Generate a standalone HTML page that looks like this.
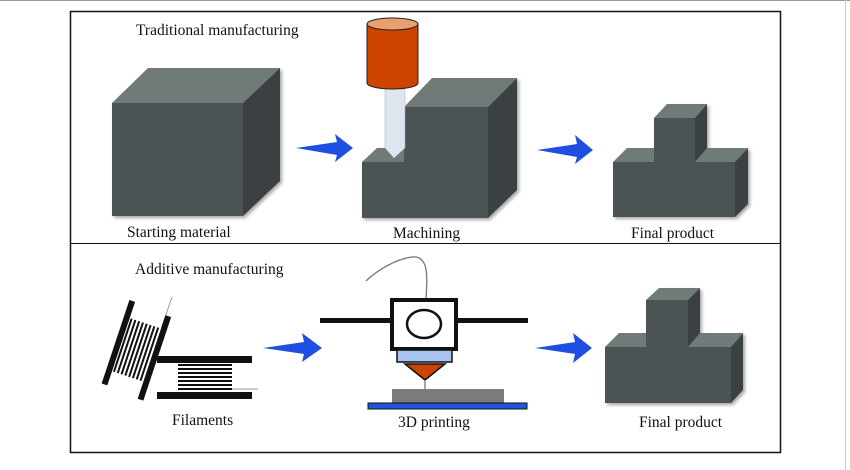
<!DOCTYPE html>
<html><head><meta charset="utf-8"><style>
html,body{margin:0;padding:0;background:#fff;}
svg{display:block;}
text{font-family:"Liberation Serif",serif;fill:#111;}
</style></head><body>
<svg width="850" height="470" viewBox="0 0 850 470" xmlns="http://www.w3.org/2000/svg">
<defs>
<filter id="sh" x="-10%" y="-10%" width="130%" height="130%"><feDropShadow dx="2" dy="2" stdDeviation="1.5" flood-color="#000" flood-opacity="0.35"/></filter>
</defs>
<rect width="850" height="470" fill="#fff"/>
<line x1="0" y1="0.5" x2="850" y2="0.5" stroke="#999" stroke-width="1"/>
<line x1="845.5" y1="0" x2="845.5" y2="470" stroke="#ccc" stroke-width="1"/>
<rect x="70.5" y="11.5" width="710" height="441" fill="none" stroke="#111" stroke-width="1.5"/>
<line x1="70" y1="243.5" x2="781" y2="243.5" stroke="#111" stroke-width="1"/>

<g filter="url(#sh)">
<polygon points="112,103 148,68 280,68 243,103" fill="#707a78"/>
<polygon points="243,103 280,68 280,181 243,216" fill="#3b4142"/>
<rect x="112" y="103" width="131" height="113" fill="#4b5354"/>
</g>

<g fill="#1f4fe0">
<polygon points="296,148 337,142 335,134 353,148 335,162 337,155"/>
<polygon points="537,150 577,144 575,135 593,150 575,164 577,157"/>
<polygon points="263,348 304,342 302,333 322,348 302,362 304,354"/>
<polygon points="535,348 575,342 573,333 592,348 573,363 575,354"/>
</g>

<g filter="url(#sh)">
<polygon points="362,162 377,148 404,148 404,162" fill="#707a78"/>
<polygon points="404,107 432,78 517,78 488,107" fill="#707a78"/>
<polygon points="488,107 517,78 517,190 488,218" fill="#3b4142"/>
<polygon points="362,162 404,162 404,107 488,107 488,218 362,218" fill="#4b5354"/>
</g>
<polygon points="385,83 405,83 405,148 394,158 385,148" fill="#dde6ee" stroke="#aab" stroke-width="0.5"/>
<path d="M367,24 L367,83 A25.5,6 0 0 0 418,83 L418,24 Z" fill="#cc4400" stroke="#222" stroke-width="1"/>
<ellipse cx="392.5" cy="24" rx="25.5" ry="6" fill="#e8a070" stroke="#222" stroke-width="1"/>

<g filter="url(#sh)">
<polygon points="613,162 627,148 748,148 735,162" fill="#707a78"/>
<polygon points="654,118 667,104 707,104 695,118" fill="#707a78"/>
<polygon points="735,162 748,148 748,204 735,217" fill="#3b4142"/>
<polygon points="695,118 707,104 707,148 695,162" fill="#3b4142"/>
<polygon points="613,162 654,162 654,118 695,118 695,162 735,162 735,217 613,217" fill="#4b5354"/>
</g>
<g filter="url(#sh)">
<polygon points="605,347 619,333 743,333 731,347" fill="#707a78"/>
<polygon points="646,300 659,288 700,288 688,300" fill="#707a78"/>
<polygon points="731,347 743,333 743,390 731,403" fill="#3b4142"/>
<polygon points="688,300 700,288 700,333 688,347" fill="#3b4142"/>
<polygon points="605,347 646,347 646,300 688,300 688,347 731,347 731,403 605,403" fill="#4b5354"/>
</g>

<line x1="172" y1="297" x2="158" y2="338" stroke="#999" stroke-width="1"/>
<g transform="translate(137,350) rotate(18.4)">
<rect x="-17" y="-28" width="34" height="56" fill="#fff"/>
<g fill="#111">
<rect x="-16" y="-28" width="2" height="56"/><rect x="-12" y="-28" width="2" height="56"/>
<rect x="-8" y="-28" width="2" height="56"/><rect x="-4" y="-28" width="2" height="56"/>
<rect x="0" y="-28" width="2" height="56"/><rect x="4" y="-28" width="2" height="56"/>
<rect x="8" y="-28" width="2" height="56"/><rect x="12" y="-28" width="2" height="56"/>
<rect x="-23" y="-45" width="6" height="88"/>
<rect x="16" y="-42" width="6" height="88"/>
</g>
</g>
<g fill="#111">
<rect x="157" y="356" width="95" height="7"/>
<rect x="157" y="392" width="95" height="7"/>
<rect x="178" y="364" width="54" height="2"/><rect x="178" y="368" width="54" height="2"/>
<rect x="178" y="372" width="54" height="2"/><rect x="178" y="376" width="54" height="2"/>
<rect x="178" y="380" width="54" height="2"/><rect x="178" y="384" width="54" height="2"/>
<rect x="178" y="388" width="54" height="2"/>
</g>
<line x1="232" y1="389" x2="258" y2="389" stroke="#999" stroke-width="1"/>

<path d="M426,299 C427,280 430,255 412,257 C395,259 375,272 366,281" fill="none" stroke="#777" stroke-width="1.3"/>
<rect x="320" y="318" width="208" height="5" fill="#111"/>
<rect x="392" y="300" width="64" height="49" fill="#fff" stroke="#111" stroke-width="4"/>
<ellipse cx="424" cy="324" rx="17" ry="14" fill="#fff" stroke="#111" stroke-width="2.5"/>
<rect x="397" y="350" width="55" height="12" fill="#a9c4ef" stroke="#111" stroke-width="1.5"/>
<polygon points="405,364 445,364 425,380" fill="#cc4400" stroke="#111" stroke-width="1.5"/>
<line x1="425" y1="380" x2="425" y2="389" stroke="#777" stroke-width="1.3"/>
<rect x="392" y="389" width="112" height="14" fill="#7b7b7b"/>
<rect x="368" y="403" width="159" height="6" fill="#2255dd" stroke="#111" stroke-width="1"/>

<text x="136" y="35" font-size="15.5">Traditional manufacturing</text>
<text x="127" y="237" font-size="15.5">Starting material</text>
<text x="393" y="238" font-size="15.5">Machining</text>
<text x="631" y="238" font-size="15.5">Final product</text>
<text x="135" y="274" font-size="15.5">Additive manufacturing</text>
<text x="172" y="425" font-size="15.5">Filaments</text>
<text x="398" y="427" font-size="15.5">3D printing</text>
<text x="639" y="427" font-size="15.5">Final product</text>
</svg>
</body></html>
